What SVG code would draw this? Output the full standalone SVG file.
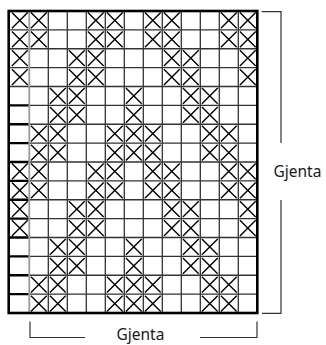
<svg xmlns="http://www.w3.org/2000/svg" xmlns:xlink="http://www.w3.org/1999/xlink" width="326" height="345" viewBox="0 0 326 345">
<style>
.grid{stroke:#333;stroke-width:1.3;fill:none}
.mark{stroke:#000;stroke-width:2.3}
.thin0{stroke:#333;stroke-width:1.3}
.sep{stroke:#9a9a9a;stroke-width:1.8}
.x{stroke:#000;stroke-width:1.4;fill:none}
.border{stroke:#000;stroke-width:2.6;fill:none}
.br{stroke:#333;stroke-width:1.2;fill:none}
.lbl{font-family:"Noto Sans","Open Sans","DejaVu Sans",sans-serif;font-size:15.5px;fill:#1a1a1a}
</style>
<defs>
<path id="x" class="x" d="M1.6,1.6 L17.4,17.3 M17.4,1.6 L1.6,17.3"/>
</defs>
<rect x="0" y="0" width="326" height="345" fill="#fff"/>
<g id="grid">
<g class="grid">
<path d="M29.3,29.875H257M29.3,48.75H257M29.3,67.625H257M29.3,86.5H257M29.3,105.375H257M29.3,124.25H257M29.3,143.125H257M29.3,162H257M29.3,180.875H257M29.3,199.75H257M29.3,218.625H257M29.3,237.5H257M29.3,256.375H257M29.3,275.25H257M29.3,294.125H257"/>
<path d="M48.3,11V313M67.3,11V313M86.3,11V313M105.3,11V313M124.3,11V313M143.3,11V313M162.3,11V313M181.3,11V313M200.3,11V313M219.3,11V313M238.3,11V313"/>
</g>
<path class="thin0" d="M10,29.875H29.3M10,48.75H29.3M10,67.625H29.3M10,86.5H29.3"/>
<path class="mark" d="M10,105.375H29.3M10,124.25H29.3M10,143.125H29.3M10,162H29.3M10,180.875H29.3M10,199.75H29.3M10,218.625H29.3M10,237.5H29.3M10,256.375H29.3M10,275.25H29.3M10,294.125H29.3"/>
<path class="sep" d="M29.3,12V312"/>
</g>
<g id="crosses">
<use href="#x" x="10.3" y="11"/><use href="#x" x="29.3" y="11"/><use href="#x" x="86.3" y="11"/><use href="#x" x="105.3" y="11"/><use href="#x" x="143.3" y="11"/><use href="#x" x="162.3" y="11"/><use href="#x" x="219.3" y="11"/><use href="#x" x="238.3" y="11"/>
<use href="#x" x="10.3" y="29.875"/><use href="#x" x="29.3" y="29.875"/><use href="#x" x="86.3" y="29.875"/><use href="#x" x="105.3" y="29.875"/><use href="#x" x="143.3" y="29.875"/><use href="#x" x="162.3" y="29.875"/><use href="#x" x="219.3" y="29.875"/><use href="#x" x="238.3" y="29.875"/>
<use href="#x" x="10.3" y="48.75"/><use href="#x" x="67.3" y="48.75"/><use href="#x" x="86.3" y="48.75"/><use href="#x" x="162.3" y="48.75"/><use href="#x" x="181.3" y="48.75"/><use href="#x" x="238.3" y="48.75"/>
<use href="#x" x="10.3" y="67.625"/><use href="#x" x="67.3" y="67.625"/><use href="#x" x="86.3" y="67.625"/><use href="#x" x="162.3" y="67.625"/><use href="#x" x="181.3" y="67.625"/><use href="#x" x="238.3" y="67.625"/>
<use href="#x" x="48.3" y="86.5"/><use href="#x" x="67.3" y="86.5"/><use href="#x" x="124.3" y="86.5"/><use href="#x" x="181.3" y="86.5"/><use href="#x" x="200.3" y="86.5"/>
<use href="#x" x="48.3" y="105.375"/><use href="#x" x="67.3" y="105.375"/><use href="#x" x="124.3" y="105.375"/><use href="#x" x="181.3" y="105.375"/><use href="#x" x="200.3" y="105.375"/>
<use href="#x" x="29.3" y="124.25"/><use href="#x" x="48.3" y="124.25"/><use href="#x" x="105.3" y="124.25"/><use href="#x" x="124.3" y="124.25"/><use href="#x" x="143.3" y="124.25"/><use href="#x" x="200.3" y="124.25"/><use href="#x" x="219.3" y="124.25"/>
<use href="#x" x="29.3" y="143.125"/><use href="#x" x="48.3" y="143.125"/><use href="#x" x="105.3" y="143.125"/><use href="#x" x="124.3" y="143.125"/><use href="#x" x="143.3" y="143.125"/><use href="#x" x="200.3" y="143.125"/><use href="#x" x="219.3" y="143.125"/>
<use href="#x" x="10.3" y="162"/><use href="#x" x="29.3" y="162"/><use href="#x" x="86.3" y="162"/><use href="#x" x="105.3" y="162"/><use href="#x" x="143.3" y="162"/><use href="#x" x="162.3" y="162"/><use href="#x" x="219.3" y="162"/><use href="#x" x="238.3" y="162"/>
<use href="#x" x="10.3" y="180.875"/><use href="#x" x="29.3" y="180.875"/><use href="#x" x="86.3" y="180.875"/><use href="#x" x="105.3" y="180.875"/><use href="#x" x="143.3" y="180.875"/><use href="#x" x="162.3" y="180.875"/><use href="#x" x="219.3" y="180.875"/><use href="#x" x="238.3" y="180.875"/>
<use href="#x" x="10.3" y="199.75"/><use href="#x" x="67.3" y="199.75"/><use href="#x" x="86.3" y="199.75"/><use href="#x" x="162.3" y="199.75"/><use href="#x" x="181.3" y="199.75"/><use href="#x" x="238.3" y="199.75"/>
<use href="#x" x="10.3" y="218.625"/><use href="#x" x="67.3" y="218.625"/><use href="#x" x="86.3" y="218.625"/><use href="#x" x="162.3" y="218.625"/><use href="#x" x="181.3" y="218.625"/><use href="#x" x="238.3" y="218.625"/>
<use href="#x" x="48.3" y="237.5"/><use href="#x" x="67.3" y="237.5"/><use href="#x" x="124.3" y="237.5"/><use href="#x" x="181.3" y="237.5"/><use href="#x" x="200.3" y="237.5"/>
<use href="#x" x="48.3" y="256.375"/><use href="#x" x="67.3" y="256.375"/><use href="#x" x="124.3" y="256.375"/><use href="#x" x="181.3" y="256.375"/><use href="#x" x="200.3" y="256.375"/>
<use href="#x" x="29.3" y="275.25"/><use href="#x" x="48.3" y="275.25"/><use href="#x" x="105.3" y="275.25"/><use href="#x" x="124.3" y="275.25"/><use href="#x" x="143.3" y="275.25"/><use href="#x" x="200.3" y="275.25"/><use href="#x" x="219.3" y="275.25"/>
<use href="#x" x="29.3" y="294.125"/><use href="#x" x="48.3" y="294.125"/><use href="#x" x="105.3" y="294.125"/><use href="#x" x="124.3" y="294.125"/><use href="#x" x="143.3" y="294.125"/><use href="#x" x="200.3" y="294.125"/><use href="#x" x="219.3" y="294.125"/>
</g>
<rect id="border" class="border" x="8.7" y="11" width="248.6" height="302"/>
<g id="repeat-right">
<path class="br" d="M261.7,11.7H281V143M281,200V313.3H262"/>
<text class="lbl" x="273.5" y="176.5">Gjenta</text>
</g>
<g id="repeat-bottom">
<path class="br" d="M30,321.5V337.5H85M200,337.5H257V321.5"/>
<text class="lbl" x="116.5" y="340.3">Gjenta</text>
</g>
</svg>
